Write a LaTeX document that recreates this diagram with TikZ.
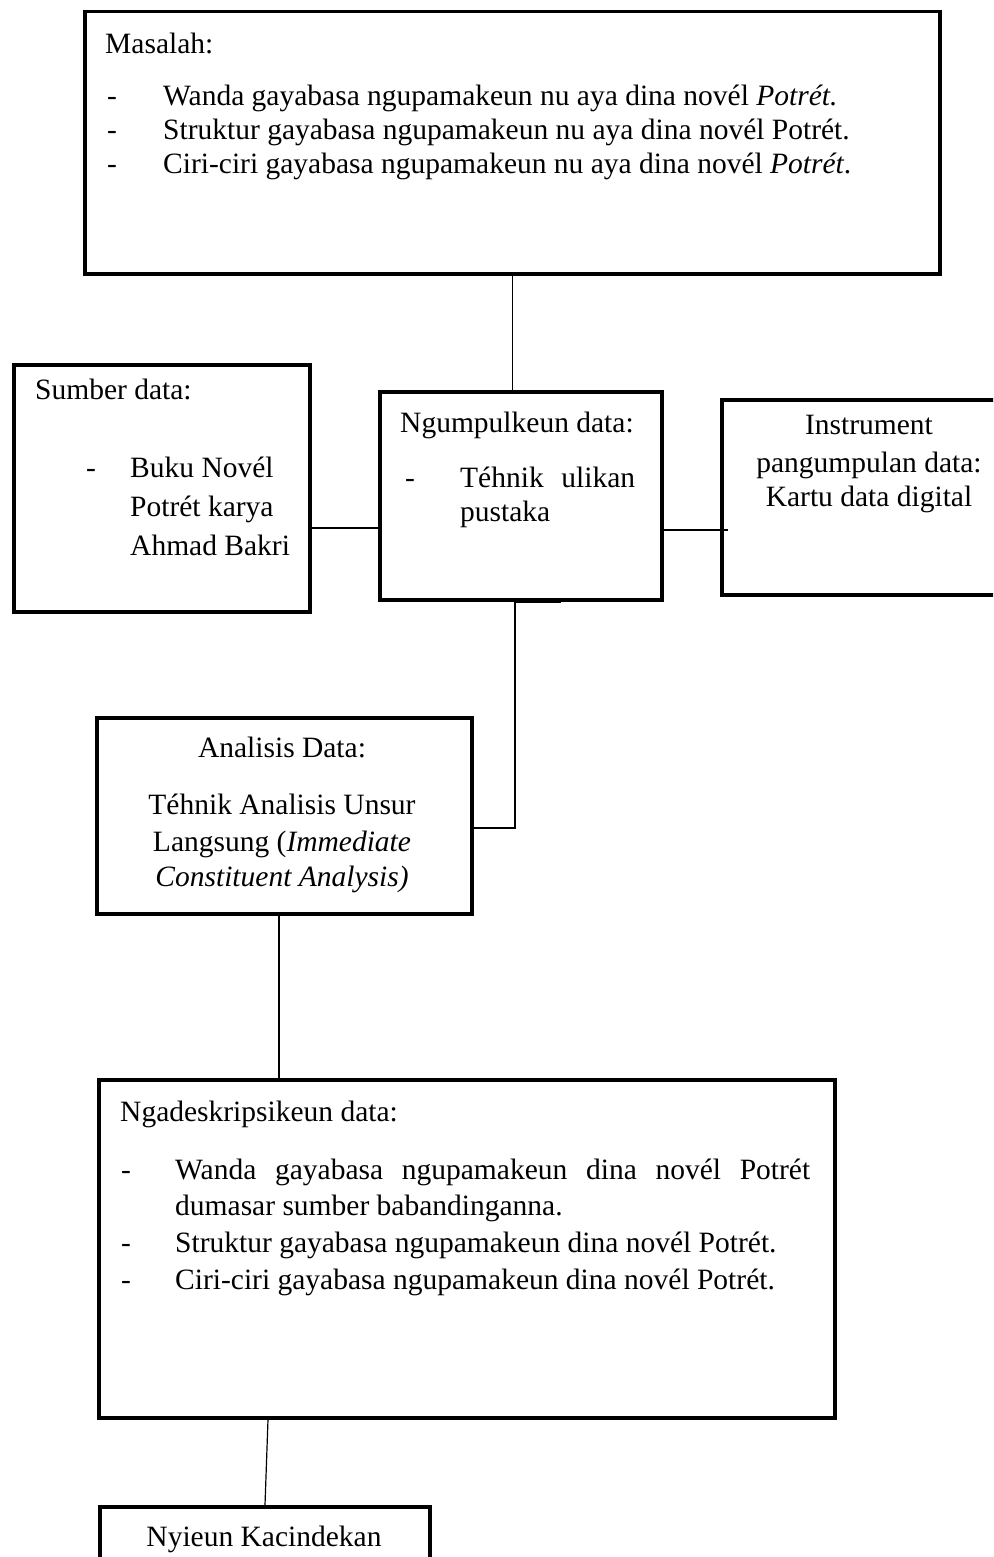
\documentclass[tikz,border=0pt]{standalone}
\usepackage{fontspec}
\setmainfont{Liberation Serif}
\begin{document}
\begin{tikzpicture}[x=1pt,y=-1pt,
  box/.style={draw,line width=3.5pt,anchor=north west,inner sep=0pt,rectangle},
  conn/.style={line width=1.2pt},
  txt/.style={anchor=base west,inner sep=0pt,font=\fontsize{29.5}{36}\selectfont},
  ctxt/.style={anchor=base,inner sep=0pt,font=\fontsize{29.5}{36}\selectfont}]
\useasboundingbox (0,0) rectangle (993,1557);
\clip (0,0) rectangle (993,1557);
% boxes
\node[box,minimum width=855pt,minimum height=262pt] (masalah) at (83,10) {};
\node[box,minimum width=296pt,minimum height=247pt] (sumber) at (12,363) {};
\node[box,minimum width=282pt,minimum height=208pt] (ngumpul) at (378,390) {};
\node[box,minimum width=290pt,minimum height=195pt] (instr) at (720,398) {};
\node[box,minimum width=375pt,minimum height=196pt] (analisis) at (95,716) {};
\node[box,minimum width=736pt,minimum height=338pt] (ngades) at (97,1078) {};
\node[box,minimum width=330pt,minimum height=90pt] (nyieun) at (98,1505) {};
% texts: Masalah
\node[txt] (t1) at (105,54) {Masalah:};
\node[txt] (t2) at (107,106) {-};
\node[txt] (t3) at (163,106) {Wanda gayabasa ngupamakeun nu aya dina novél \textit{Potrét.}};
\node[txt] (t4) at (107,140) {-};
\node[txt] (t5) at (163,140) {Struktur gayabasa ngupamakeun nu aya dina novél Potrét.};
\node[txt] (t6) at (107,174) {-};
\node[txt] (t7) at (163,174) {Ciri-ciri gayabasa ngupamakeun nu aya dina novél \textit{Potrét}.};
% Sumber
\node[txt] (s1) at (35,399) {Sumber data:};
\node[txt] (s2) at (86,477) {-};
\node[txt] (s3) at (130,477) {Buku Novél};
\node[txt] (s4) at (130,516) {Potrét karya};
\node[txt] (s5) at (130,555) {Ahmad Bakri};
% Ngumpulkeun
\node[txt] (n1) at (400,432) {Ngumpulkeun data:};
\node[txt] (n2) at (405,487) {-};
\node[txt] (n3) at (460,487) {\makebox[175pt][s]{Téhnik ulikan}};
\node[txt] (n4) at (460,521) {pustaka};
% Instrument
\node[ctxt] (i1) at (869,434) {Instrument};
\node[ctxt] (i2) at (869,472) {pangumpulan data:};
\node[ctxt] (i3) at (869,506) {Kartu data digital};
% Analisis
\node[ctxt] (a1) at (282,757) {Analisis Data:};
\node[ctxt] (a2) at (282,814) {Téhnik Analisis Unsur};
\node[ctxt] (a3) at (282,851) {Langsung (\textit{Immediate}};
\node[ctxt] (a4) at (282,886) {\textit{Constituent Analysis)}};
% Ngadeskripsikeun
\node[txt] (d1) at (120,1121) {Ngadeskripsikeun data:};
\node[txt] (d2) at (121,1179) {-};
\node[txt] (d3) at (175,1179) {\makebox[635pt][s]{Wanda gayabasa ngupamakeun dina novél Potrét}};
\node[txt] (d4) at (175,1215) {dumasar sumber babandinganna.};
\node[txt] (d5) at (121,1252) {-};
\node[txt] (d6) at (175,1252) {Struktur gayabasa ngupamakeun dina novél Potrét.};
\node[txt] (d7) at (121,1289) {-};
\node[txt] (d8) at (175,1289) {Ciri-ciri gayabasa ngupamakeun dina novél Potrét.};
% Nyieun
\node[ctxt] (k1) at (264,1546) {Nyieun Kacindekan};
% connectors
\draw[conn] (masalah.south) -- (masalah.south |- ngumpul.north);
\draw[conn] (sumber.east |- 0,528) -- (ngumpul.west |- 0,528);
\draw[conn] (ngumpul.east |- 0,530) -- ([xshift=8pt]instr.west |- 0,530);
\coordinate (c1) at (515,602);
\coordinate (c2) at (561,602);
\coordinate (c3) at (515,828);
\draw[conn] (c2) -- (c1) -- (c3) -- (analisis.east |- c3);
\draw[conn] (analisis.south -| 279,0) -- (ngades.north -| 279,0);
\draw[conn] (ngades.south -| 268,0) -- (nyieun.north -| 265,0);
\end{tikzpicture}
\end{document}
